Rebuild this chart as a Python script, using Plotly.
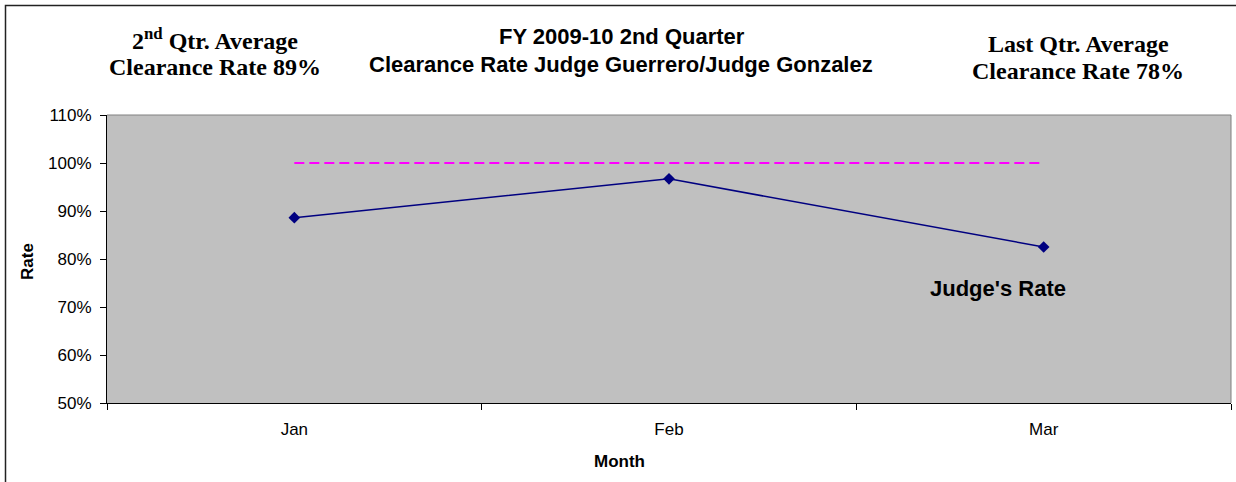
import plotly.graph_objects as go

months = ["Jan", "Feb", "Mar"]
judge_rate = [0.886, 0.967, 0.825]
target_rate = [1.0, 1.0, 1.0]
y_ticks = [0.5, 0.6, 0.7, 0.8, 0.9, 1.0, 1.1]
y_tick_labels = ["50%", "60%", "70%", "80%", "90%", "100%", "110%"]

W, H = 1236, 482
L, R, T, B = 107, 5, 115, 79
pw, ph = W - L - R, H - T - B

def px(x):
    return (x - L) / pw

def py(y):
    return (H - B - y) / ph

fig = go.Figure()
fig.add_trace(go.Scatter(
    x=months, y=target_rate, mode="lines",
    line=dict(color="#FF00FF", width=2, dash="10px,5px"),
    hoverinfo="skip", showlegend=False))
fig.add_trace(go.Scatter(
    x=months, y=judge_rate, mode="lines+markers",
    line=dict(color="#000080", width=1.5),
    marker=dict(symbol="diamond", size=9, color="#000080"),
    showlegend=False))

sans = "Liberation Sans, Arial, sans-serif"
serif = "Liberation Serif, Times New Roman, serif"

fig.update_layout(
    width=W, height=H,
    margin=dict(l=L, r=R, t=T, b=B),
    paper_bgcolor="white", plot_bgcolor="#C0C0C0",
    font=dict(family=sans, color="black", size=17),
    xaxis=dict(
        type="category", range=[-0.5, 2.5], tickson="boundaries",
        ticks="outside", ticklen=6, tickcolor="black",
        showline=True, linecolor="black", linewidth=1,
        showgrid=False, zeroline=False,
        tickfont=dict(family=sans, size=17), ticklabelstandoff=11,
    ),
    yaxis=dict(
        range=[0.5, 1.1], tickvals=y_ticks, ticktext=y_tick_labels,
        ticks="outside", ticklen=6, tickcolor="black",
        showline=True, linecolor="black", linewidth=1,
        showgrid=False, zeroline=False,
        tickfont=dict(family=sans, size=17), ticklabelstandoff=5,
    ),
)

# plot-area top and right gray border
fig.add_shape(type="line", xref="paper", yref="paper", x0=0, x1=1, y0=1, y1=1,
              line=dict(color="#808080", width=1))
fig.add_shape(type="line", xref="paper", yref="paper", x0=1, x1=1, y0=0, y1=1,
              line=dict(color="#808080", width=1))
# outer chart frame
fig.add_shape(type="rect", xref="paper", yref="paper",
              x0=px(5.5), x1=px(1300), y0=py(5.5), y1=py(560),
              line=dict(color="#222222", width=1.5), layer="below")

def label(x, y, text, font):
    fig.add_annotation(xref="paper", yref="paper", x=px(x), y=py(y),
                       xanchor="center", yanchor="middle",
                       text=text, showarrow=False, font=font, align="center")

title_font = dict(family=sans, size=22, color="black")
side_font = dict(family=serif, size=24, color="black")
label(622, 36, "<b>FY 2009-10 2nd Quarter</b>", title_font)
label(621, 65, "<b>Clearance Rate Judge Guerrero/Judge Gonzalez</b>", title_font)
label(215, 39, "<b>2<sup>nd</sup> Qtr. Average</b>", side_font)
label(215, 67, "<b>Clearance Rate 89%</b>", side_font)
label(1078, 44, "<b>Last Qtr. Average</b>", side_font)
label(1078, 71, "<b>Clearance Rate 78%</b>", side_font)
label(998, 288, "<b>Judge's Rate</b>", dict(family=sans, size=22, color="black"))
label(619, 461, "<b>Month</b>", dict(family=sans, size=17, color="black"))
fig.add_annotation(xref="paper", yref="paper", x=px(27), y=py(261),
                   xanchor="center", yanchor="middle", textangle=-90,
                   text="<b>Rate</b>", showarrow=False,
                   font=dict(family=sans, size=17, color="black"))

fig.write_html("out.html",
               config={"displayModeBar": False},
               post_script="document.body.style.margin='0';document.body.style.overflow='hidden';")
